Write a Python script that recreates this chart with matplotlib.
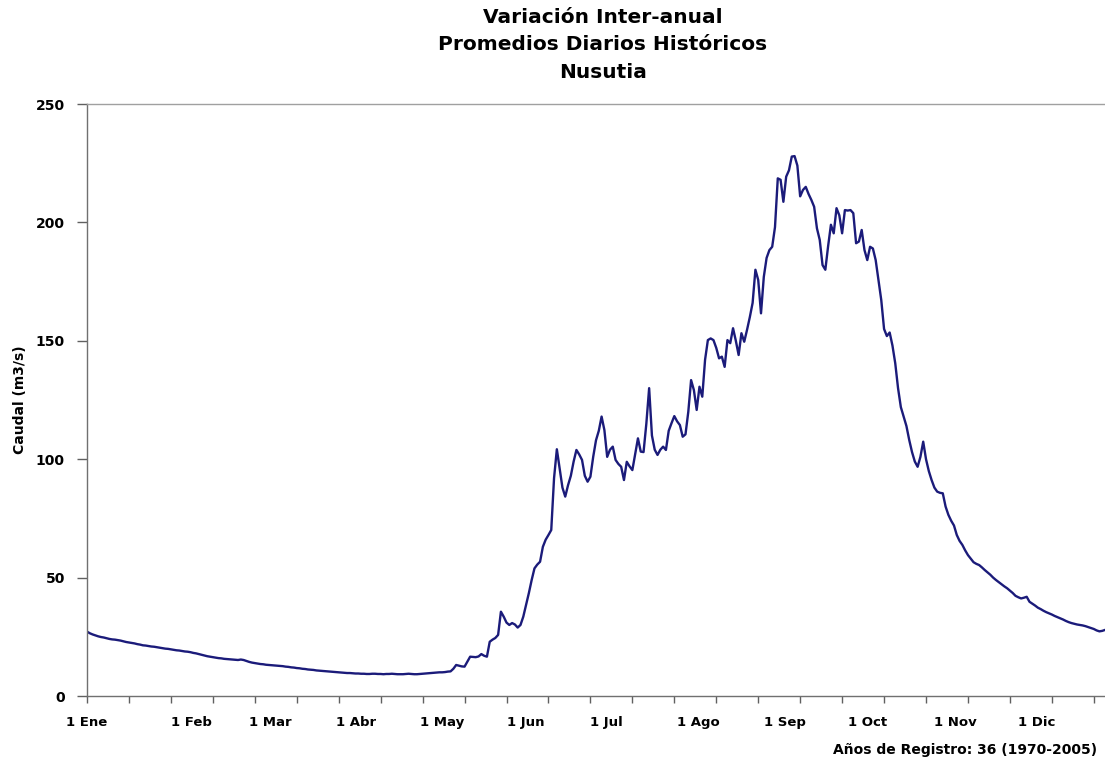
import numpy as np
import matplotlib
matplotlib.use("Agg")
import matplotlib.pyplot as plt
from matplotlib.transforms import blended_transform_factory

plt.rcParams['font.family'] = ['DejaVu Sans']

# Daily mean discharge (m3/s), one list per month
ene = [27.2, 26.5, 26.0, 25.6, 25.2, 24.9, 24.7, 24.4, 24.1, 23.9, 23.8, 23.6,
       23.4, 23.1, 22.8, 22.6, 22.4, 22.2, 21.9, 21.7, 21.4, 21.3, 21.1, 20.9,
       20.8, 20.6, 20.4, 20.2, 20.0, 19.9, 19.7]
feb = [19.5, 19.3, 19.2, 19.0, 18.8,
       18.7, 18.5, 18.2, 18.0, 17.7, 17.4, 17.1, 16.8, 16.6, 16.4, 16.2, 16.0,
       15.9, 15.7, 15.6, 15.5, 15.4, 15.3, 15.2, 15.4, 15.2, 14.8, 14.4]
mar = [14.1,
       13.9, 13.7, 13.5, 13.4, 13.2, 13.1, 13.0, 12.9, 12.8, 12.7, 12.6, 12.4,
       12.3, 12.1, 12.0, 11.8, 11.7, 11.5, 11.4, 11.2, 11.1, 11.0, 10.8, 10.7,
       10.6, 10.5, 10.4, 10.3, 10.2, 10.1]
abr = [10.0, 9.9, 9.8, 9.7, 9.7, 9.6,
       9.5, 9.5, 9.4, 9.4, 9.3, 9.3, 9.4, 9.4, 9.3, 9.3, 9.2, 9.3,
       9.3, 9.4, 9.3, 9.2, 9.2, 9.2, 9.3, 9.4, 9.3, 9.2, 9.2, 9.3]
may = [9.4, 9.5, 9.6, 9.7, 9.8, 9.9, 10.0, 10.0, 10.1, 10.3, 10.4, 11.5,
       13.1, 12.8, 12.5, 12.4, 14.5, 16.6, 16.5, 16.4, 16.7, 17.7, 17.0, 16.6,
       22.9, 23.8, 24.5, 25.8, 35.6, 33.5, 31.0]
jun = [30.0, 30.8, 30.2, 28.9, 30.0, 33.5, 38.5, 43.5, 49.0, 53.9, 55.5, 56.7,
       63.0, 66.0, 68.0, 70.1, 92.0, 104.2, 96.0, 88.0, 84.2, 89.0, 93.0, 99.0,
       103.9, 102.0, 99.7, 93.0, 90.5, 92.6]
jul = [101.0, 108.0, 112.0, 118.0, 112.3, 101.0, 104.0, 105.3, 99.7, 98.0,
       96.8, 91.2, 98.9, 97.0, 95.4, 102.0, 108.8, 103.2, 103.0, 115.0,
       130.0, 110.0, 104.0, 101.8, 104.0, 105.3, 103.9, 112.0, 115.2, 118.2,
       116.0]
ago = [114.4, 109.5, 110.5, 120.0, 133.4, 129.2, 120.8, 130.6, 126.4, 142.0,
       150.3, 151.0, 150.3, 147.0, 142.6, 143.3, 139.0, 150.3, 149.0, 155.3,
       150.0, 144.0, 153.2, 149.6, 154.6, 160.0, 166.0, 180.0, 175.7, 161.6,
       177.0]
sep = [185.0, 188.3, 189.7, 198.0, 218.6, 218.0, 208.7, 219.3, 222.0, 227.8,
       228.0, 224.0, 211.0, 213.7, 215.0, 212.0, 209.5, 206.6, 197.5, 192.6,
       182.0, 180.0, 190.0, 199.0, 195.4, 206.0, 203.0, 195.4, 205.2, 205.0]
octu = [205.2, 203.9, 191.2, 191.9, 196.8, 188.3, 184.1, 189.7, 189.0, 184.1,
        175.7, 167.2, 155.0, 152.0, 153.5, 148.0, 140.5, 130.0, 122.0, 118.0,
        114.0, 108.1, 103.0, 99.0, 96.8, 101.0, 107.4, 100.0, 95.0, 91.2,
        88.0]
nov = [86.3, 85.8, 85.6, 80.0, 76.5, 74.0, 72.0, 68.0, 65.5, 63.8,
       61.5, 59.5, 58.0, 56.5, 55.8, 55.3, 54.3, 53.2, 52.2, 51.2,
       50.0, 49.0, 48.1, 47.2, 46.3, 45.5, 44.5, 43.5, 42.3, 41.7]
dic = [41.2, 41.5, 41.9, 39.8, 39.0, 38.2, 37.3, 36.7, 36.0, 35.4,
       34.9, 34.4, 33.8, 33.3, 32.8, 32.3, 31.7, 31.2, 30.8, 30.5,
       30.2, 30.0, 29.8, 29.5, 29.1, 28.7, 28.3, 27.7, 27.3, 27.5, 27.9]

months = [ene, feb, mar, abr, may, jun, jul, ago, sep, octu, nov, dic]
month_labels = ['1 Ene', '1 Feb', '1 Mar', '1 Abr', '1 May', '1 Jun',
                '1 Jul', '1 Ago', '1 Sep', '1 Oct', '1 Nov', '1 Dic']
y_ticks = [0, 50, 100, 150, 200, 250]

caudal = np.concatenate(months)
dias = np.arange(len(caudal))
month_start = np.cumsum([0] + [len(m) for m in months[:-1]])

W, H = 1105, 763
fig = plt.figure(figsize=(W / 100, H / 100), dpi=100)
ax = fig.add_axes([87 / W, 1 - 696 / H, (W - 87) / W, (696 - 104) / H])

ax.plot(dias, caudal, color='#1b1b7a', lw=1.7, solid_joinstyle='round')

ax.set_xlim(0, 364)
ax.set_ylim(0, 250)
ax.set_yticks(y_ticks)
ax.set_yticklabels([str(v) for v in y_ticks], fontweight='bold', fontsize=10)
ax.set_xticks(np.arange(0, 365, 15))
ax.set_xticklabels([])
ax.tick_params(axis='x', direction='out', length=5, width=1, color='#606060')
ax.tick_params(axis='y', direction='out', length=7, width=1, color='#606060',
               pad=9)

for s in ['left', 'bottom']:
    ax.spines[s].set_color('#707070')
    ax.spines[s].set_linewidth(1.0)
ax.spines['top'].set_color('#a0a0a0')
ax.spines['top'].set_linewidth(1.0)
ax.spines['right'].set_visible(False)

trans = blended_transform_factory(ax.transData, ax.transAxes)
for i, (lab, d) in enumerate(zip(month_labels, month_start)):
    ha = 'center' if i == 0 else 'left'
    x = d if i == 0 else d - 1
    ax.text(x, -0.045, lab, transform=trans, ha=ha, va='center',
            fontsize=9.5, fontweight='bold', clip_on=False)

fig.text(20 / W, 1 - 400 / H, 'Caudal (m3/s)', rotation=90,
         ha='center', va='center', fontsize=10, fontweight='bold')

fig.text(603 / W, 1 - 8 / H,
         'Variación Inter-anual\nPromedios Diarios Históricos\nNusutia',
         ha='center', va='top', fontsize=14.5, fontweight='bold',
         linespacing=1.56)

fig.text(1097 / W, 1 - 750 / H, 'Años de Registro: 36 (1970-2005)',
         ha='right', va='center', fontsize=10, fontweight='bold')

fig.savefig('out.png', dpi=100)
